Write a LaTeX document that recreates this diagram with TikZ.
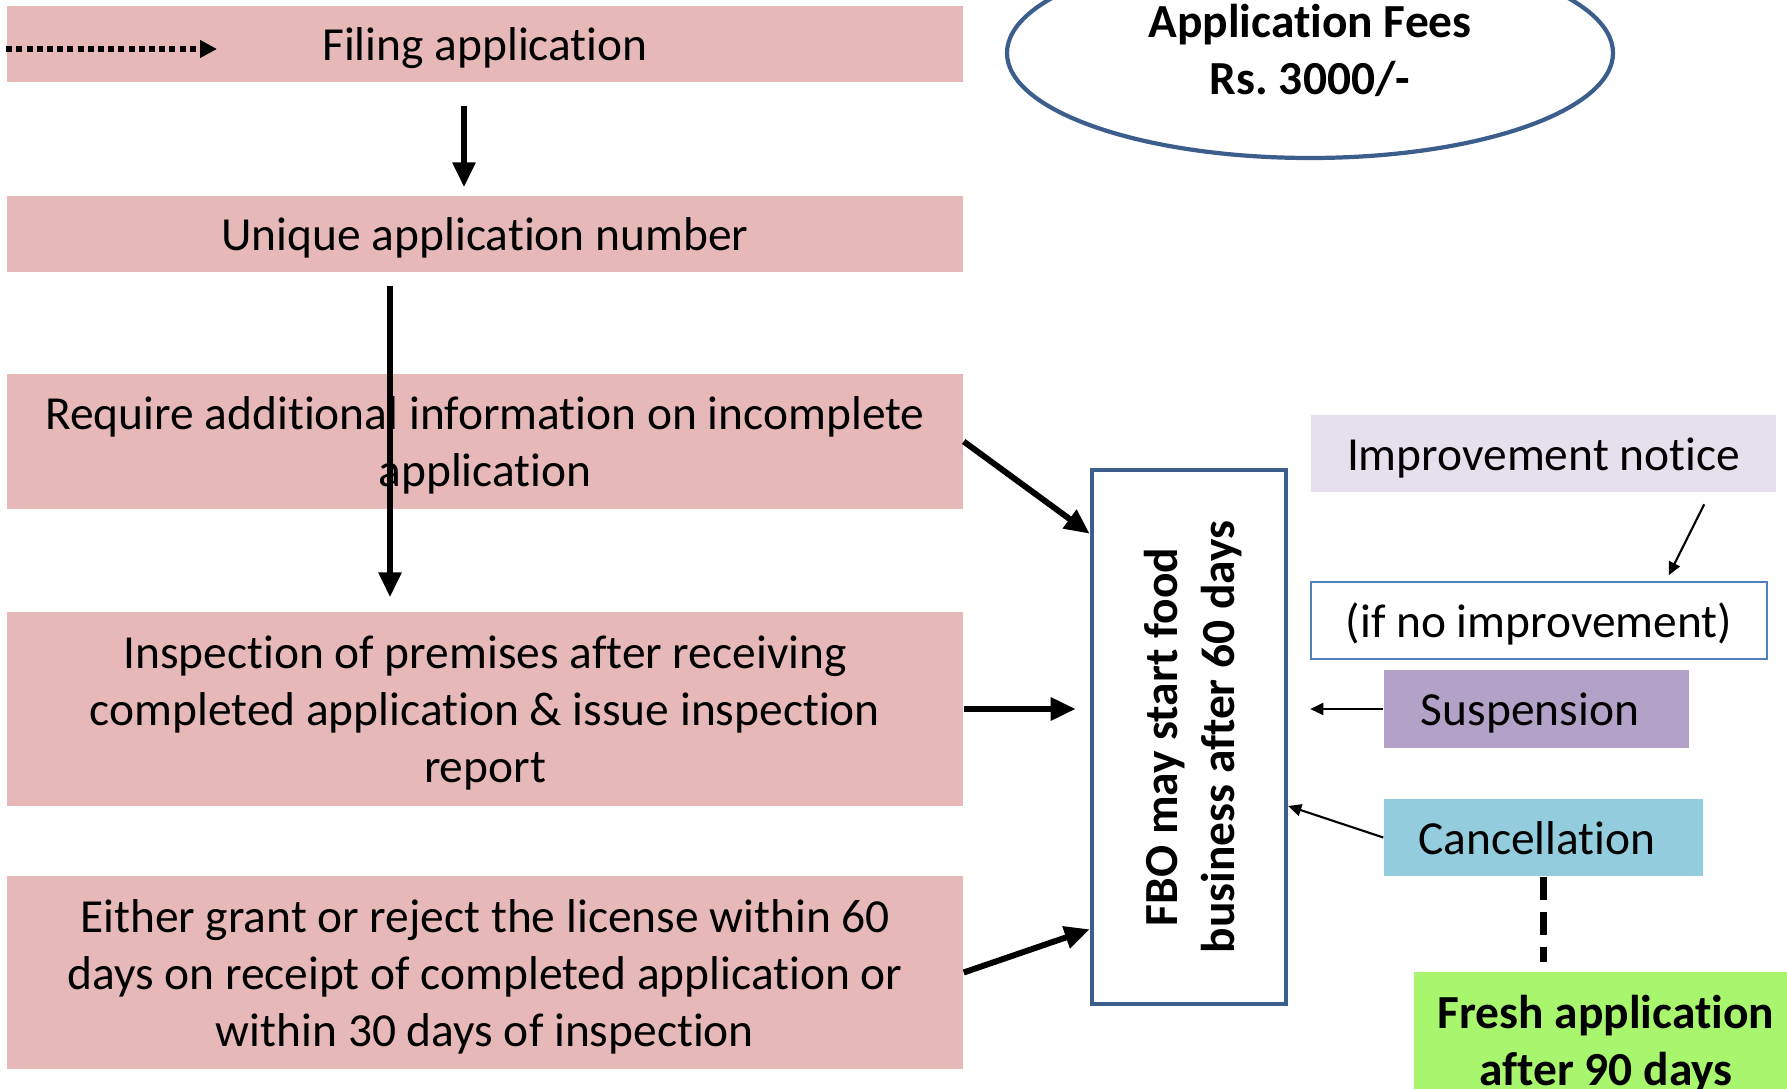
\documentclass[tikz,border=0pt]{standalone}
\usepackage{fontspec}
\setmainfont{Carlito}[Ligatures=NoCommon]
\usetikzlibrary{arrows.meta,shapes.geometric}
\definecolor{stepfill}{HTML}{E6B9B8}
\definecolor{framecol}{HTML}{3B5E8C}
\definecolor{noticefill}{HTML}{E6E0EC}
\definecolor{ifnoframe}{HTML}{4F81BD}
\definecolor{suspfill}{HTML}{B3A2C7}
\definecolor{cancelfill}{HTML}{93CDDD}
\definecolor{freshfill}{HTML}{A8F56E}
\begin{document}
\begin{tikzpicture}[font=\fontsize{13.5}{16.2}\selectfont,
    oneline/.style={text height=13.2pt, text depth=3.7pt},
    twolines/.style={text height=29.4pt, text depth=3.7pt},
    threelines/.style={text height=45.6pt, text depth=3.7pt},
    stepbox/.style={rectangle, fill=stepfill, minimum width=9.56cm, align=center, inner sep=0pt},
    sidebox/.style={rectangle, minimum height=0.77cm, align=center, inner sep=0pt, oneline},
    bigarrow/.style={line width=1.7pt, -{Triangle[length=0.25cm,width=0.22cm]}},
    thinarrow/.style={line width=0.6pt, -{Triangle[length=0.13cm,width=0.12cm]}}]
  \useasboundingbox (0,0) rectangle (17.87,-10.89);
  \clip (0,0) rectangle (17.87,-10.89);
  \node[stepbox, oneline, minimum height=0.76cm] (filing) at (4.85,-0.44) {Filing application};
  \node[stepbox, oneline, minimum height=0.76cm] (unique) at (4.85,-2.34) {Unique application number};
  \node[stepbox, twolines, minimum height=1.35cm] (require) at (4.85,-4.415) {Require additional information on incomplete\\application};
  \node[stepbox, threelines, minimum height=1.94cm] (inspect) at (4.85,-7.09) {Inspection of premises after receiving\\completed application \& issue inspection\\report};
  \node[stepbox, threelines, minimum height=1.93cm] (decide) at (4.85,-9.725) {Either grant or reject the license within 60\\days on receipt of completed application or\\within 30 days of inspection};
  \node[ellipse, draw=framecol, line width=1.2pt, minimum width=6.06cm, minimum height=2.1cm, align=center, text height=27.4pt, text depth=3.7pt, font=\fontsize{13.5}{16.2}\selectfont\bfseries] (fees) at (13.10,-0.53) {Application Fees\\Rs.\ 3000/-};
  \node[rectangle, draw=framecol, line width=1.3pt, minimum width=1.94cm, minimum height=5.34cm] (fbo) at (11.89,-7.37) {};
  \node[rotate=90, align=center, twolines, font=\fontsize{13.5}{16.2}\selectfont\bfseries] (fbotext) at (fbo.center) {FBO may start food\\business after 60 days};
  \node[sidebox, fill=noticefill, minimum width=4.65cm] (notice) at (15.435,-4.535) {Improvement notice};
  \node[sidebox, draw=ifnoframe, line width=0.8pt, minimum width=4.56cm] (ifno) at (15.39,-6.205) {(if no improvement)};
  \node[sidebox, fill=suspfill, minimum width=3.05cm, minimum height=0.78cm] (susp) at (15.365,-7.09) {Suspension\hspace*{0.13cm}};
  \node[sidebox, fill=cancelfill, minimum width=3.19cm] (cancel) at (15.435,-8.375) {Cancellation\hspace*{0.13cm}};
  \node[sidebox, twolines, fill=freshfill, minimum width=3.84cm, minimum height=1.36cm, font=\fontsize{13.5}{16.2}\selectfont\bfseries] (fresh) at (16.06,-10.40) {Fresh application\\after 90 days};
  \coordinate (start) at (2.17,-0.49);
  \draw[line width=1.8pt, dash pattern=on 1.7pt off 1.2pt, -{Triangle[length=0.17cm,width=0.17cm]}] ([yshift=-0.05cm]filing.west) -- (start);
  \draw[bigarrow, shorten <=0.23cm, shorten >=0.08cm] ([xshift=-0.21cm]filing.south) -- ([xshift=-0.21cm]unique.north);
  \draw[bigarrow, shorten <=0.13cm, shorten >=0.14cm] ([xshift=-0.95cm]unique.south) -- ([xshift=-0.95cm]inspect.north);
  \draw[bigarrow] (require.east) -- ([yshift=-0.66cm]fbo.north west);
  \draw[bigarrow, shorten >=0.14cm] (inspect.east) -- (inspect.east -| fbo.west);
  \draw[bigarrow] (decide.east) -- ([yshift=0.77cm]fbo.south west);
  \draw[thinarrow, shorten <=0.13cm, shorten >=0.06cm] ([xshift=1.665cm]notice.south) -- ([xshift=1.27cm]ifno.north);
  \draw[thinarrow, shorten >=0.22cm] (susp.west) -- (susp.west -| fbo.east);
  \draw[thinarrow] (cancel.west) -- ([yshift=-0.69cm]fbo.east);
  \draw[line width=2pt, dash pattern=on 0.23cm off 0.12cm, shorten >=0.09cm] (cancel.south) -- (cancel.south |- fresh.north);
\end{tikzpicture}
\end{document}
